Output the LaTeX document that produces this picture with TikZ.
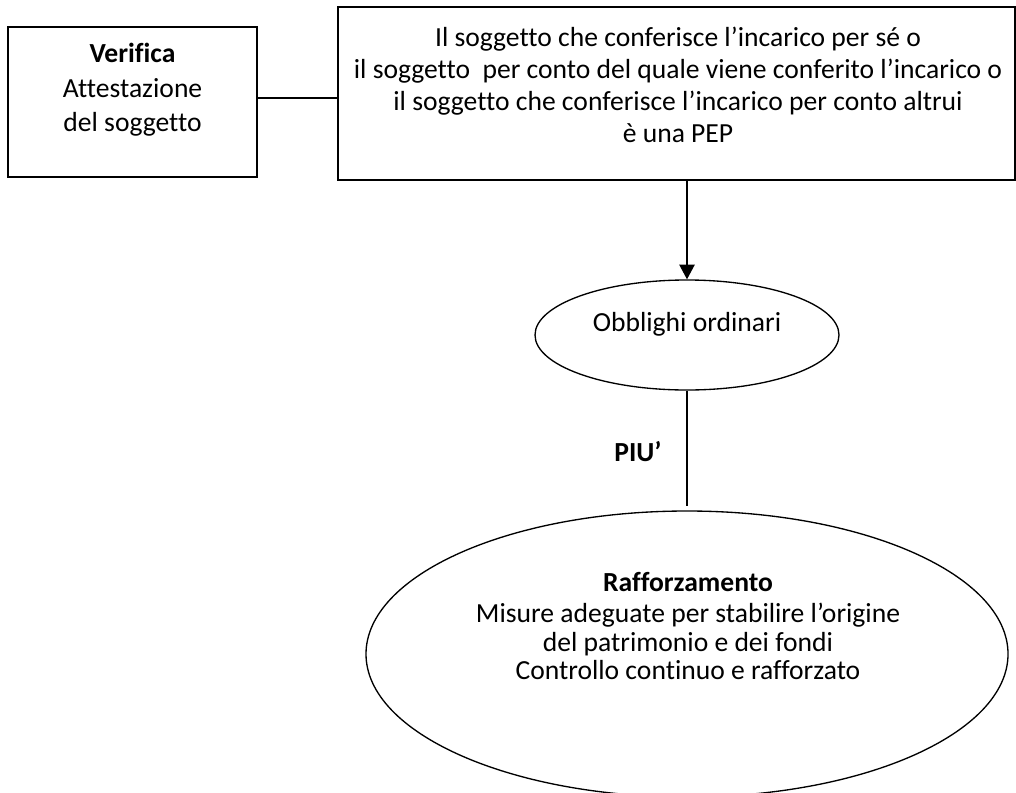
\documentclass[tikz,border=0pt]{standalone}
\usepackage{fontspec}
\setmainfont{Carlito}[Ligatures=NoCommon]
\usetikzlibrary{arrows.meta,positioning,shapes.geometric}

\begin{document}
\begin{tikzpicture}[x=0.75pt, y=-0.75pt,
    boxshape/.style={draw, line width=1pt, rectangle, inner sep=0pt},
    ovalshape/.style={draw, line width=1pt, ellipse, inner sep=0pt},
    shapetext/.style={font=\fontsize{20.7}{24.5}\selectfont, align=center, inner sep=0pt},
    link/.style={line width=1pt}]
    \useasboundingbox (0,0) rectangle (1016,792);

    % Verifica
    \node[boxshape, minimum width=186.75pt, minimum height=112.5pt] (verifica) at (132.5,102) {};
    \node[shapetext, font=\fontsize{20.7}{26}\selectfont] (verificatext) at (132.5,90) {\textbf{Verifica}\\Attestazione\\del soggetto};

    % PEP
    \node[boxshape, minimum width=507.75pt, minimum height=129.75pt] (pep) at (676.5,93.5) {};
    \node[shapetext, font=\fontsize{20.7}{24}\selectfont] (peptext) at (678,85) {Il soggetto che conferisce l’incarico per sé o\\il soggetto~ per conto del quale viene conferito l’incarico o\\il soggetto che conferisce l’incarico per conto altrui\\è una PEP};

    % Obblighi ordinari
    \node[ovalshape, minimum width=228pt, minimum height=82.5pt] (obblighi) at (687,335) {};
    \node[shapetext] (obblighitext) at (687,324) {Obblighi ordinari};

    % Rafforzamento
    \node[ovalshape, minimum width=481.5pt, minimum height=214.5pt] (raff) at (687,654) {};
    \node[shapetext, font=\fontsize{20.7}{21.5}\selectfont] (rafftext) at (688,626) {\textbf{Rafforzamento}\\[2pt]Misure adeguate per stabilire l’origine\\del patrimonio e dei fondi\\Controllo continuo e rafforzato};

    % Connectors
    \draw[link] ([yshift=3pt]verifica.east) -- ([yshift=3pt]verifica.east -| pep.west);
    \draw[link, -{Triangle[length=11pt, width=11.5pt]}] (pep.south -| obblighi.north) -- (obblighi.north);
    \draw[link, shorten >=3pt] (obblighi.south) -- (raff.north);
    \node[shapetext, font=\fontsize{20.7}{24.5}\selectfont\bfseries] (piu) at (638,452) {PIU’};
\end{tikzpicture}
\end{document}
